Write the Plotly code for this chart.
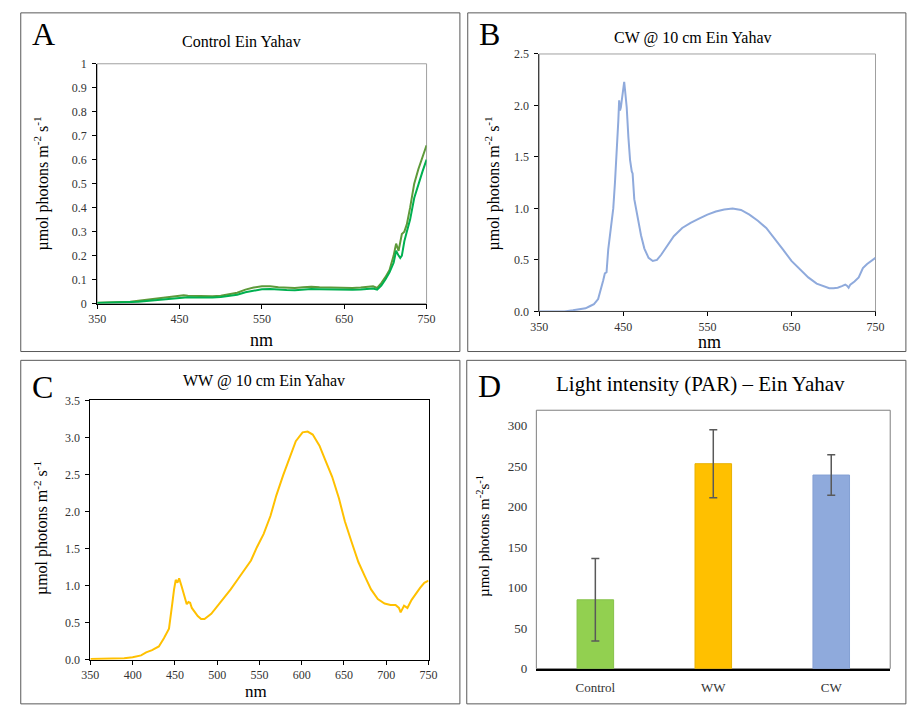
import plotly.graph_objects as go

W, H = 910, 706
FONT = "'Liberation Serif', 'Times New Roman', Times, serif"

# ---------------- data ----------------
ctrl_nm = [350, 360, 370, 380, 390, 400, 410, 420, 430, 440, 450, 455, 460,
           470, 480, 490, 500, 510, 520, 530, 540, 550, 560, 570, 580, 590, 600,
           610, 620, 630, 640, 650, 660, 670, 680, 685, 690, 695, 700, 705, 710,
           713, 716, 718, 720, 723, 726, 730, 735, 740, 745, 750]
ctrl_a = [0.003, 0.004, 0.005, 0.006, 0.008, 0.012, 0.016, 0.02, 0.022, 0.027, 0.032,
          0.035, 0.033,
          0.032, 0.03, 0.03, 0.033, 0.038, 0.045, 0.058, 0.067, 0.072, 0.072, 0.068,
          0.066, 0.065, 0.068, 0.07, 0.068, 0.067, 0.066, 0.066, 0.065, 0.067, 0.07,
          0.072, 0.065, 0.085, 0.11, 0.14, 0.2,
          0.25, 0.22, 0.25, 0.29, 0.3, 0.33,
          0.4, 0.5, 0.56, 0.61, 0.66]
ctrl_b = [0.002, 0.003, 0.003, 0.004, 0.006, 0.008, 0.011, 0.014, 0.017, 0.02, 0.024,
          0.027, 0.026,
          0.025, 0.024, 0.025, 0.027, 0.031, 0.037, 0.047, 0.055, 0.06, 0.061, 0.058,
          0.057, 0.056, 0.06, 0.061, 0.06, 0.059, 0.058, 0.058, 0.058, 0.059, 0.062,
          0.063, 0.058, 0.075, 0.1, 0.13, 0.17,
          0.22, 0.2, 0.19, 0.2, 0.26, 0.3,
          0.35, 0.44, 0.5, 0.55, 0.6]

cw_nm = [350, 360, 370, 380, 390, 400, 405, 410, 415, 420,
         423, 426, 428, 430, 432, 435, 438, 440, 442, 444,
         445, 446, 447, 448, 449, 450, 451, 452, 453, 454,
         456, 458, 460, 461, 463, 465, 468, 471, 475, 480,
         485, 490, 495, 500, 510, 520, 530, 540, 550, 560,
         570, 580, 590, 600, 610, 620, 630, 640, 650, 660,
         670, 680, 690, 695, 700, 705, 710, 714, 716, 718,
         720, 725, 730, 735, 740, 745, 750]
cw_val = [0.0, 0.0, 0.0, 0.0, 0.01, 0.02, 0.03, 0.05, 0.07, 0.12,
          0.2, 0.3, 0.37, 0.38, 0.6, 0.8, 1.0, 1.25, 1.5, 1.85,
          2.05, 1.95, 1.98, 2.04, 2.1, 2.2, 2.23, 2.15, 2.0, 1.98,
          1.69, 1.47, 1.36, 1.34, 1.09, 1.0, 0.87, 0.74, 0.61, 0.52,
          0.49, 0.5, 0.55, 0.61, 0.73, 0.81, 0.86, 0.9, 0.94, 0.97,
          0.99, 1.0, 0.985, 0.94, 0.88, 0.81, 0.71, 0.6, 0.49, 0.41,
          0.33, 0.27, 0.235, 0.225, 0.225, 0.23, 0.245, 0.26, 0.25, 0.23,
          0.26, 0.29, 0.33, 0.42, 0.46, 0.49, 0.52]

ww_nm = [350, 360, 370, 380, 390, 400, 410, 416, 423, 431, 437, 443,
         446, 447, 449, 451, 453, 455, 458, 460, 462, 464, 466, 468, 470,
         474, 477, 481, 485,
         493, 501, 508, 516, 524, 532, 540, 547, 555, 563, 570, 578, 586, 593,
         601, 607, 613, 621, 628, 636, 644, 651, 659, 667, 675, 682, 690, 698,
         705, 711, 715, 717, 721, 725, 730, 734, 740, 745, 750]
ww_val = [0.01, 0.01, 0.012, 0.015, 0.02, 0.035, 0.06, 0.1, 0.13, 0.18, 0.29, 0.42,
          0.64, 0.77, 0.95, 1.08, 1.04, 1.1, 0.99, 0.9, 0.84, 0.75, 0.78, 0.77, 0.7,
          0.64, 0.59, 0.55, 0.55,
          0.62, 0.73, 0.84, 0.95, 1.08, 1.21, 1.34, 1.52, 1.7, 1.94, 2.22, 2.49, 2.75, 2.95,
          3.07, 3.08, 3.04, 2.89, 2.69, 2.47, 2.18, 1.87, 1.59, 1.32, 1.12, 0.95, 0.82, 0.76,
          0.74, 0.74, 0.70, 0.64, 0.73, 0.70, 0.81, 0.88, 0.97, 1.04, 1.07]

par_cat = ["Control", "WW", "CW"]
par_mean = [85, 253, 239]
par_err = [51, 42, 25]
par_colors = ["#92D050", "#FFC000", "#8FAADC"]

x_ticks_100 = [350, 450, 550, 650, 750]
x_ticks_50 = [350, 400, 450, 500, 550, 600, 650, 700, 750]


def px(x):
    return x / W


def py(y):
    return 1 - y / H


fig = go.Figure()

fig.add_trace(go.Scatter(x=ctrl_nm, y=ctrl_a, mode="lines",
                         line=dict(color="#5E9A3A", width=2), xaxis="x", yaxis="y"))
fig.add_trace(go.Scatter(x=ctrl_nm, y=ctrl_b, mode="lines",
                         line=dict(color="#00B050", width=2), xaxis="x", yaxis="y"))
fig.add_trace(go.Scatter(x=cw_nm, y=cw_val, mode="lines",
                         line=dict(color="#8FAADC", width=2), xaxis="x2", yaxis="y2"))
fig.add_trace(go.Scatter(x=ww_nm, y=ww_val, mode="lines",
                         line=dict(color="#FFC000", width=2), xaxis="x3", yaxis="y3"))
fig.add_trace(go.Bar(x=par_cat, y=par_mean, width=0.31,
                     marker=dict(color=par_colors, line=dict(color=["#86C24A", "#E8B000", "#84A0D4"], width=1)),
                     error_y=dict(type="data", array=par_err, color="#595959",
                                  thickness=1.5, width=4),
                     xaxis="x4", yaxis="y4"))

tickfont = dict(family=FONT, size=12, color="#333333")

common_x = dict(showgrid=False, zeroline=False, showline=True, linecolor="black",
                linewidth=1, ticks="outside", ticklen=4, tickcolor="black",
                tickfont=tickfont)
common_y = dict(showgrid=False, zeroline=False, showline=True, linecolor="black",
                linewidth=1, ticks="outside", ticklen=4, tickcolor="black",
                tickfont=tickfont, ticklabelstandoff=3)

fig.update_layout(
    width=W, height=H, margin=dict(l=0, r=0, t=0, b=0),
    paper_bgcolor="white", plot_bgcolor="white", showlegend=False,
    font=dict(family=FONT, color="black"),
    xaxis=dict(common_x, domain=[px(90), px(426)], range=[350, 750],
               tickvals=x_ticks_100, anchor="y"),
    yaxis=dict(common_y, domain=[py(303), py(58)], range=[0, 1], dtick=0.1,
               tick0=0, anchor="x"),
    xaxis2=dict(common_x, domain=[px(541), px(884)], range=[350, 750],
                tickvals=x_ticks_100, anchor="y2", linecolor="#404040"),
    yaxis2=dict(common_y, domain=[py(311), py(48)], range=[0, 2.5], dtick=0.5,
                tickformat=".1f", anchor="x2", linecolor="#404040"),
    xaxis3=dict(common_x, domain=[px(83), px(428)], range=[350, 750],
                tickvals=x_ticks_50, anchor="y3", mirror=True),
    yaxis3=dict(common_y, domain=[py(667), py(402)], range=[0, 3.5], dtick=0.5,
                tickformat=".1f", anchor="x3", mirror=True),
    xaxis4=dict(showgrid=False, zeroline=False, showline=True, linecolor="black",
                linewidth=1.5, ticks="", domain=[px(538), px(899)],
                range=[-0.5, 2.5], anchor="y4", ticklabelstandoff=6,
                tickfont=dict(family=FONT, size=13, color="#333333")),
    yaxis4=dict(showgrid=False, zeroline=False, showline=False, ticks="",
                domain=[py(676), py(412)], range=[0, 319], dtick=50,
                anchor="x4", ticklabelstandoff=8,
                tickfont=dict(family=FONT, size=13, color="#333333")),
)

shapes = []
# panel borders
for (x0, y0, x1, y1) in [(12, 6, 460, 352), (468, 6, 915, 352),
                         (12, 361, 460, 712), (467, 361, 915, 712)]:
    shapes.append(dict(type="rect", xref="paper", yref="paper",
                       x0=px(x0), x1=px(x1), y0=py(y1), y1=py(y0),
                       line=dict(color="#595959", width=1), layer="below"))
# plot-area boxes
for ax, col in [("", "#A0A0A0"), ("2", "#A0A0A0"), ("4", "#7F7F7F")]:
    shapes.append(dict(type="rect", xref=f"x{ax} domain", yref=f"y{ax} domain",
                       x0=0, x1=1, y0=0, y1=1,
                       line=dict(color=col, width=1), layer="below"))
fig.update_layout(shapes=shapes)

ann = []


def text(x, y, s, size, angle=0):
    ann.append(dict(x=px(x), y=py(y), xref="paper", yref="paper", text=s,
                    showarrow=False, xanchor="center", yanchor="middle",
                    textangle=angle, font=dict(family=FONT, size=size, color="black")))


ylab = "µmol photons m<sup>-2</sup> s<sup>-1</sup>"
ylab_d = "µmol photons m<sup>-2</sup>s<sup>-1</sup>"

# letters
text(35, 28, "A", 32)
text(490, 28, "B", 32)
text(34, 388, "C", 32)
text(490, 387, "D", 32)
# titles
text(237, 35, "Control Ein Yahav", 16)
text(698, 32, "CW @ 10 cm Ein Yahav", 16)
text(260, 382, "WW @ 10 cm Ein Yahav", 16)
text(705, 385, "Light intensity (PAR) – Ein Yahav", 21)
# x titles
text(258, 340, "nm", 18)
text(715, 342, "nm", 18)
text(252, 699, "nm", 17)
# y titles
text(33, 180, ylab, 16, -90)
text(493, 180, ylab, 16, -90)
text(33, 532, ylab, 16, -90)
text(483, 540, ylab_d, 15, -90)

fig.update_layout(annotations=ann)

fig.write_html("out.html")
